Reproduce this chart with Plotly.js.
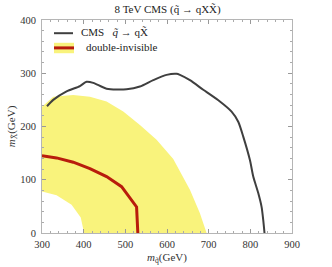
<!DOCTYPE html>
<html><head><meta charset="utf-8">
<script src="https://cdn.plot.ly/plotly-3.0.1.min.js"></script>
<style>html,body{margin:0;padding:0;background:#fff}#c{width:332px;height:267px}</style>
</head><body><div id="c"></div>
<script>
// CMS exclusion contour (squark mass, X mass) in GeV
const cmsX = [312,327,359,391,407,423,455,503,535,567,599,623,631,655,687,727,755,771,783,799,807,819,827,831,834];
const cmsY = [238,250,266,276,284,282,271,270,275,287,297,299,297,287,269,247,228,209,181,137,106,75,49,24,0];
// double-invisible band: outer edge then inner edge
const bandOuterX = [300,327,375,415,455,495,535,575,615,655,679,695];
const bandOuterY = [237,256,259,256,247,228,203,175,139,81,37,0];
const bandInnerX = [401,393,371,335,300];
const bandInnerY = [0,29,53,71,78];
// double-invisible central line
const redX = [300,335,375,415,455,491,527,529,530];
const redY = [145,141,133,121,106,87,49,20,0];

const xTicks = [300,400,500,600,700,800,900];
const yTicks = [0,100,200,300,400];

const bandX = bandOuterX.concat(bandInnerX);
const bandY = bandOuterY.concat(bandInnerY);

const serif = 'Liberation Serif, Times New Roman, serif';
const traces = [
  {x: bandX, y: bandY, type:'scatter', mode:'lines', fill:'toself', fillcolor:'#f9f37c', line:{width:0, color:'#f9f37c'}, hoverinfo:'skip', showlegend:false},
  {x: redX, y: redY, type:'scatter', mode:'lines', line:{color:'#b81c0c', width:3}, showlegend:false},
  {x: cmsX, y: cmsY, type:'scatter', mode:'lines', line:{color:'#3f3f3f', width:2, shape:'spline', smoothing:0.7}, showlegend:false}
];

const axisCommon = {
  showgrid:false, zeroline:false, showline:true, linecolor:'#b5b5b5', linewidth:1, mirror:'allticks',
  ticks:'inside', ticklen:4, tickcolor:'#999', tickwidth:1,
  tickfont:{family:serif, size:10.5, color:'#333'},
  minor:{ticks:'inside', ticklen:2, tickcolor:'#aaa', dtick:20, showgrid:false}
};

const layout = {
  width:332, height:267,
  margin:{l:42, r:40, t:20, b:34},
  paper_bgcolor:'#fff', plot_bgcolor:'#fff',
  title:{text:'8 TeV CMS (q\u0303 \u2192 qXX\u0303)', font:{family:serif, size:11, color:'#222'}, x:0.505, xanchor:'center', y:0.965, yanchor:'middle'},
  xaxis: Object.assign({}, axisCommon, {range:[300,900], tickvals:xTicks, ticktext:xTicks.map(String), ticklabelstandoff:1,
    title:{text:'<i>m</i><sub>q\u0303</sub>(GeV)', font:{family:serif, size:11, color:'#333'}, standoff:4}}),
  yaxis: Object.assign({}, axisCommon, {range:[0,400], tickvals:yTicks, ticktext:yTicks.map(String), ticklabelstandoff:3,
    title:{text:'<i>m</i><sub>X\u0303</sub>(GeV)', font:{family:serif, size:11, color:'#333'}, standoff:2}}),
  shapes:[
    {type:'line', xref:'paper', yref:'paper', x0:0.048, x1:0.124, y0:0.938, y1:0.938, line:{color:'#3f3f3f', width:2}},
    {type:'rect', xref:'paper', yref:'paper', x0:0.048, x1:0.128, y0:0.844, y1:0.893, fillcolor:'#f9f37c', line:{width:0}},
    {type:'line', xref:'paper', yref:'paper', x0:0.048, x1:0.128, y0:0.869, y1:0.869, line:{color:'#b81c0c', width:3}}
  ],
  annotations:[
    {xref:'paper', yref:'paper', x:0.148, y:0.942, xanchor:'left', yanchor:'middle', showarrow:false,
     text:'CMS&nbsp;&nbsp;&nbsp;<i>q\u0303</i> \u2192 qX\u0303', font:{family:serif, size:11, color:'#222'}},
    {xref:'paper', yref:'paper', x:0.168, y:0.873, xanchor:'left', yanchor:'middle', showarrow:false,
     text:'double-invisible', font:{family:serif, size:11, color:'#222'}}
  ]
};

Plotly.newPlot('c', traces, layout, {displayModeBar:false, staticPlot:true});
</script>
</body></html>
